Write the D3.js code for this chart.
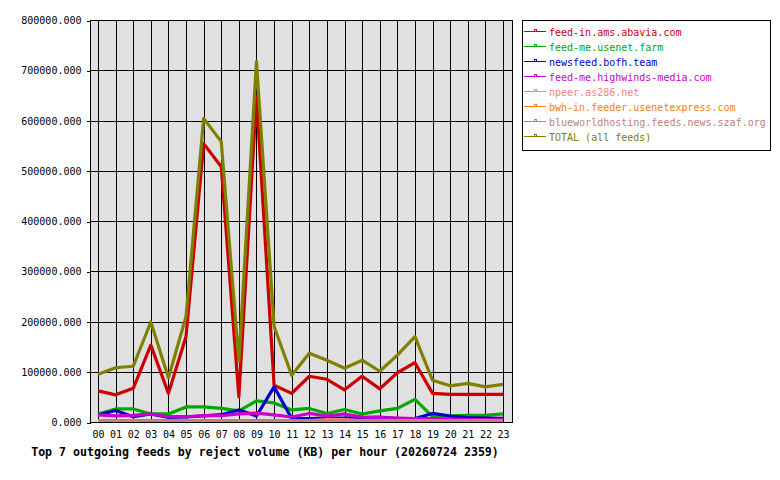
<!DOCTYPE html>
<html>
<head>
<meta charset="utf-8">
<script src="https://cdn.jsdelivr.net/npm/d3@7"></script>
<style>
  body { margin: 0; background: #fff; }
  text { font-family: "DejaVu Sans Mono", monospace; }
</style>
</head>
<body>
<svg id="chart" width="780" height="480"></svg>
<script>
// hours on the x axis
const hours = d3.range(24).map(h => String(h).padStart(2, "0"));

// feed names, in legend order
const feeds = [
  "feed-in.ams.abavia.com",
  "feed-me.usenet.farm",
  "newsfeed.bofh.team",
  "feed-me.highwinds-media.com",
  "npeer.as286.net",
  "bwh-in.feeder.usenetexpress.com",
  "blueworldhosting.feeds.news.szaf.org",
  "TOTAL (all feeds)"
];
const colors = ["#cc0000", "#00aa00", "#0000cc", "#cc00cc", "#ff8080", "#ff8000", "#c08080", "#808000"];

// reject volume (KB) per hour
const abavia = [62000, 54000, 67000, 153000, 57000, 170000, 554000, 508000, 50000, 647000, 73000, 57000,
  91000, 85000, 64000, 91000, 66000, 98000, 118000, 57000, 55000, 55000, 55000, 55000];
const usenetFarm = [16000, 26000, 26000, 16000, 16000, 30000, 30000, 27000, 22000, 42000, 38000, 24000,
  27000, 17000, 25000, 16000, 22000, 27000, 45000, 10500, 12000, 13000, 13000, 16000];
const bofh = [14000, 23000, 10500, 16000, 9000, 10000, 12000, 14500, 24000, 12000, 70000, 7000,
  7000, 8000, 8000, 9000, 10000, 7000, 7000, 17000, 12000, 9000, 8000, 7500];
const highwinds = [14000, 12000, 13000, 16000, 10500, 10500, 12500, 12500, 16000, 17500, 14000, 10000,
  17000, 12000, 16000, 10000, 9000, 8000, 7000, 7000, 6000, 5000, 5000, 5000];
const npeer = [3000, 3000, 3000, 3000, 3000, 3000, 3000, 3000, 3000, 3000, 3000, 3000,
  3000, 5000, 5000, 3000, 3000, 3000, 3000, 3000, 3000, 3000, 3000, 3000];
const usenetexpress = [3000, 3000, 3000, 3000, 3000, 3000, 3000, 3000, 3000, 3000, 3000, 3000,
  3000, 3000, 3000, 3000, 3000, 3000, 3000, 3000, 3000, 3000, 3000, 3000];
const blueworld = [3000, 3000, 3000, 3000, 3000, 3000, 3000, 3000, 3000, 3000, 3000, 3000,
  3000, 3000, 3000, 3000, 3000, 3000, 3000, 3000, 3000, 3000, 3000, 3000];
const total = [95000, 108000, 111000, 199000, 88000, 210000, 604000, 558000, 120000, 717000, 190000, 93000,
  137000, 123000, 107000, 123000, 101000, 133000, 170000, 83000, 72000, 77000, 70000, 75000];

const yTicks = d3.range(0, 800001, 100000);
const title = "Top 7 outgoing feeds by reject volume (KB) per hour (20260724 2359)";

const series = [abavia, usenetFarm, bofh, highwinds, npeer, usenetexpress, blueworld, total];

const svg = d3.select("#chart");
const plot = { left: 90, right: 512, top: 20, bottom: 422 };

const x = d3.scalePoint()
    .domain(hours)
    .range([98, 503]);

const y = d3.scaleLinear()
    .domain([0, 800000])
    .range([plot.bottom, plot.top]);

// plot background
svg.append("rect")
    .attr("x", plot.left)
    .attr("y", plot.top)
    .attr("width", plot.right - plot.left)
    .attr("height", plot.bottom - plot.top)
    .attr("fill", "#e0e0e0");

// grid
svg.append("g").selectAll("line")
    .data(hours)
    .enter().append("line")
    .attr("x1", d => Math.round(x(d)) + 0.5)
    .attr("x2", d => Math.round(x(d)) + 0.5)
    .attr("y1", plot.top)
    .attr("y2", plot.bottom)
    .attr("stroke", "#000")
    .attr("shape-rendering", "crispEdges");

svg.append("g").selectAll("line")
    .data(yTicks)
    .enter().append("line")
    .attr("x1", plot.left)
    .attr("x2", plot.right)
    .attr("y1", d => Math.round(y(d)) + 0.5)
    .attr("y2", d => Math.round(y(d)) + 0.5)
    .attr("stroke", "#000")
    .attr("shape-rendering", "crispEdges");

// border (top, right)
svg.append("rect")
    .attr("x", plot.left + 0.5)
    .attr("y", plot.top + 0.5)
    .attr("width", plot.right - plot.left)
    .attr("height", plot.bottom - plot.top)
    .attr("fill", "none")
    .attr("stroke", "#000")
    .attr("shape-rendering", "crispEdges");

// y axis
const yAxis = svg.append("g")
    .attr("transform", `translate(${plot.left + 0.5},0.5)`)
    .call(d3.axisLeft(y).tickValues(yTicks).tickSize(4).tickPadding(5)
        .tickFormat(d => d.toFixed(3)));
yAxis.select(".domain").remove();
yAxis.selectAll("line").attr("stroke", "#000").attr("shape-rendering", "crispEdges");
yAxis.selectAll("text")
    .attr("font-family", "DejaVu Sans Mono")
    .attr("font-size", 10)
    .attr("fill", "#000");

// x axis
const xAxis = svg.append("g")
    .attr("transform", `translate(0,${plot.bottom})`)
    .call(d3.axisBottom(x).tickSize(0).tickPadding(9));
xAxis.select(".domain").remove();
xAxis.selectAll("text")
    .attr("font-family", "DejaVu Sans Mono")
    .attr("font-size", 10)
    .attr("fill", "#000");

// series lines
const line = d3.line()
    .x((d, i) => x(hours[i]))
    .y(d => y(d));

svg.append("g").selectAll("path")
    .data(series)
    .enter().append("path")
    .attr("d", d => line(d))
    .attr("fill", "none")
    .attr("stroke", (d, i) => colors[i])
    .attr("stroke-width", 3.2)
    .attr("stroke-linejoin", "round");

// title
svg.append("text")
    .attr("x", 265)
    .attr("y", 456)
    .attr("text-anchor", "middle")
    .attr("font-family", "DejaVu Sans Mono")
    .attr("font-weight", "bold")
    .attr("font-size", 11.6)
    .text(title);

// legend
svg.append("rect")
    .attr("x", 522.5)
    .attr("y", 20.5)
    .attr("width", 248)
    .attr("height", 130)
    .attr("fill", "#fff")
    .attr("stroke", "#000")
    .attr("shape-rendering", "crispEdges");

const legend = svg.append("g").selectAll("g")
    .data(feeds)
    .enter().append("g")
    .attr("transform", (d, i) => `translate(0,${31 + i * 15})`);

legend.append("line")
    .attr("x1", 524)
    .attr("x2", 546)
    .attr("y1", 0.5)
    .attr("y2", 0.5)
    .attr("stroke", (d, i) => colors[i])
    .attr("shape-rendering", "crispEdges");

legend.append("rect")
    .attr("x", 534.5)
    .attr("y", -1.5)
    .attr("width", 2)
    .attr("height", 2)
    .attr("fill", "#fff")
    .attr("stroke", (d, i) => colors[i])
    .attr("shape-rendering", "crispEdges");

legend.append("text")
    .attr("x", 549)
    .attr("y", 1)
    .attr("dy", "0.35em")
    .attr("font-family", "DejaVu Sans Mono")
    .attr("font-size", 10)
    .attr("fill", (d, i) => colors[i])
    .text(d => d);
</script>
</body>
</html>
